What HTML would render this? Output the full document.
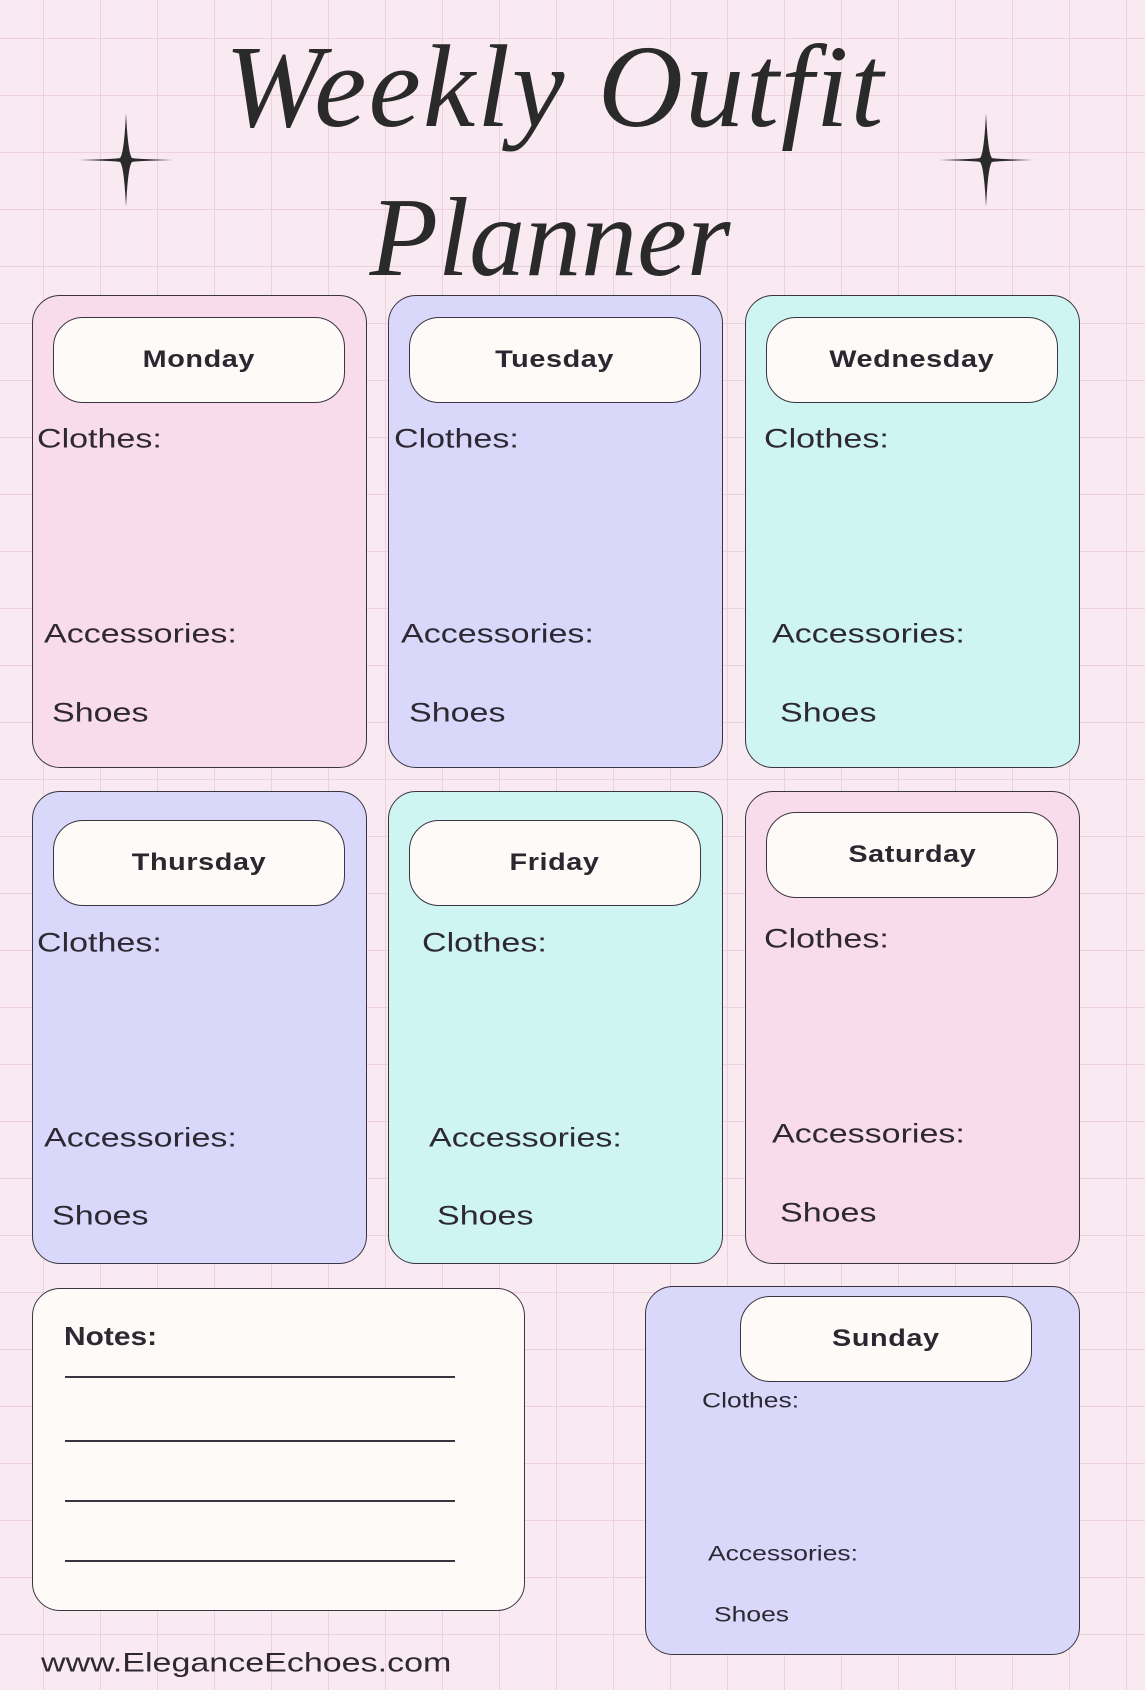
<!DOCTYPE html>
<html><head><meta charset="utf-8"><style>
html,body{margin:0;padding:0}
body{width:1145px;height:1690px;position:relative;overflow:hidden;background-color:#f9eaf2;
background-image:linear-gradient(to right,#ecd0dd 1px,transparent 1px),linear-gradient(to bottom,#ecd0dd 1px,transparent 1px);
background-size:57px 57px;background-position:43px 38px;font-family:"Liberation Sans",sans-serif;color:#2b2630}
.card{position:absolute;border:1.5px solid #3a3540;border-radius:28px;box-sizing:border-box}
.pk{background:#f9dceb}.lv{background:#d9d8fb}.mt{background:#cef5f2}
.pill{position:absolute;background:#fefaf7;border:1.5px solid #3a3540;border-radius:30px;box-sizing:border-box;display:flex;align-items:center;justify-content:center;font-weight:bold;font-size:24px;letter-spacing:0.5px}
.pill span{display:inline-block;transform:scaleX(1.2)}
.t{position:absolute;line-height:1;font-size:27px;transform:translateY(-50%) scaleX(1.26);transform-origin:left center;white-space:nowrap;color:#2e2833}
.s{font-size:21px}
.line{position:absolute;left:65px;width:390px;height:1.5px;background:#3a3540}
.title{position:absolute;font-family:"Liberation Serif",serif;font-style:italic;font-weight:normal;color:#2a2a2a;white-space:nowrap;text-align:center;line-height:1}
</style></head><body>
<div class="title" style="left:210px;top:28px;width:690px;font-size:118px;letter-spacing:2px">Weekly Outfit</div>
<div class="title" style="left:340px;top:182px;width:420px;font-size:112px">Planner</div>
<svg style="position:absolute;left:78px;top:112px" width="96" height="96" viewBox="-48 -48 96 96"><path d="M0,-47 Q2,-6 6,-2 Q9,-1 47,0 Q9,1 6,2 Q2,6 0,47 Q-2,6 -6,2 Q-9,1 -47,0 Q-9,-1 -6,-2 Q-2,-6 0,-47Z" fill="#2a2a2a"/></svg>
<svg style="position:absolute;left:938px;top:112px" width="96" height="96" viewBox="-48 -48 96 96"><path d="M0,-47 Q2,-6 6,-2 Q9,-1 47,0 Q9,1 6,2 Q2,6 0,47 Q-2,6 -6,2 Q-9,1 -47,0 Q-9,-1 -6,-2 Q-2,-6 0,-47Z" fill="#2a2a2a"/></svg>

<div class="card pk" style="left:32px;top:295px;width:335px;height:473px"></div>
<div class="card lv" style="left:388px;top:295px;width:335px;height:473px"></div>
<div class="card mt" style="left:745px;top:295px;width:335px;height:473px"></div>
<div class="card lv" style="left:32px;top:791px;width:335px;height:473px"></div>
<div class="card mt" style="left:388px;top:791px;width:335px;height:473px"></div>
<div class="card pk" style="left:745px;top:791px;width:335px;height:473px"></div>
<div class="card" style="left:32px;top:1288px;width:493px;height:323px;background:#fefaf7"></div>
<div class="card lv" style="left:645px;top:1286px;width:435px;height:369px"></div>

<div class="pill" style="left:53px;top:317px;width:292px;height:86px"><span>Monday</span></div>
<div class="pill" style="left:409px;top:317px;width:292px;height:86px"><span>Tuesday</span></div>
<div class="pill" style="left:766px;top:317px;width:292px;height:86px"><span>Wednesday</span></div>
<div class="pill" style="left:53px;top:820px;width:292px;height:86px"><span>Thursday</span></div>
<div class="pill" style="left:409px;top:820px;width:292px;height:86px"><span>Friday</span></div>
<div class="pill" style="left:766px;top:812px;width:292px;height:86px"><span>Saturday</span></div>
<div class="pill" style="left:740px;top:1296px;width:292px;height:86px"><span>Sunday</span></div>

<div class="t" style="left:37px;top:439px">Clothes:</div>
<div class="t" style="left:44px;top:634px">Accessories:</div>
<div class="t" style="left:52px;top:713px">Shoes</div>
<div class="t" style="left:394px;top:439px">Clothes:</div>
<div class="t" style="left:401px;top:634px">Accessories:</div>
<div class="t" style="left:409px;top:713px">Shoes</div>
<div class="t" style="left:764px;top:439px">Clothes:</div>
<div class="t" style="left:772px;top:634px">Accessories:</div>
<div class="t" style="left:780px;top:713px">Shoes</div>

<div class="t" style="left:37px;top:943px">Clothes:</div>
<div class="t" style="left:44px;top:1138px">Accessories:</div>
<div class="t" style="left:52px;top:1216px">Shoes</div>
<div class="t" style="left:422px;top:943px">Clothes:</div>
<div class="t" style="left:429px;top:1138px">Accessories:</div>
<div class="t" style="left:437px;top:1216px">Shoes</div>
<div class="t" style="left:764px;top:939px">Clothes:</div>
<div class="t" style="left:772px;top:1134px">Accessories:</div>
<div class="t" style="left:780px;top:1213px">Shoes</div>

<div class="t s" style="left:702px;top:1401px">Clothes:</div>
<div class="t s" style="left:708px;top:1554px">Accessories:</div>
<div class="t s" style="left:714px;top:1615px">Shoes</div>

<div class="t" style="left:64px;top:1336px;font-weight:bold;font-size:26px;transform:translateY(-50%) scaleX(1.15)">Notes:</div>
<div class="line" style="top:1376px"></div>
<div class="line" style="top:1440px"></div>
<div class="line" style="top:1500px"></div>
<div class="line" style="top:1560px"></div>

<div class="t" style="left:41px;top:1663px;font-size:27px">www.EleganceEchoes.com</div>
</body></html>
